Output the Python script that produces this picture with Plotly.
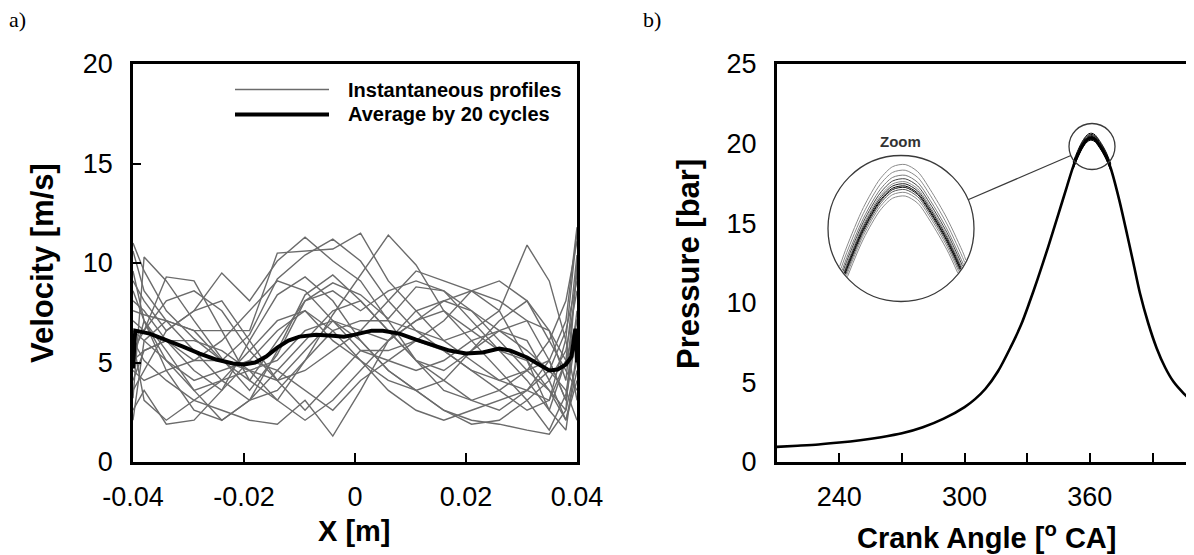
import numpy as np
import plotly.graph_objects as go

# ---------------- Panel a) data : velocity profiles ----------------
x_prof = [-0.04, -0.038, -0.034, -0.029, -0.024, -0.019, -0.014, -0.009, -0.004,
          0.001, 0.006, 0.011, 0.016, 0.021, 0.026, 0.031, 0.035, 0.038, 0.04]

prof_01 = [11.0, 9.6, 7.6, 6.2, 5.1, 6.4, 9.2, 10.4, 11.2, 10.1, 8.1, 6.6, 5.6, 4.6, 4.1, 3.6, 3.1, 6.2, 11.6]
prof_02 = [3.2, 10.3, 9.1, 7.1, 5.2, 3.6, 5.4, 8.1, 9.0, 8.4, 7.2, 8.8, 8.6, 7.1, 5.6, 4.1, 2.6, 5.1, 10.4]
prof_03 = [7.1, 6.6, 9.3, 9.1, 6.6, 4.1, 3.1, 5.1, 7.4, 9.4, 11.4, 9.9, 7.6, 6.1, 4.6, 3.1, 1.6, 3.4, 7.2]
prof_04 = [5.1, 7.1, 5.6, 3.6, 2.1, 3.1, 5.6, 8.4, 9.4, 8.1, 6.6, 5.1, 4.6, 5.6, 7.1, 8.1, 6.6, 4.1, 9.6]
prof_05 = [2.6, 3.6, 1.9, 2.1, 3.6, 6.1, 8.4, 9.3, 8.1, 6.1, 4.6, 3.6, 2.6, 2.1, 1.9, 1.6, 1.4, 2.6, 5.1]
prof_06 = [9.1, 8.1, 6.6, 7.6, 9.5, 8.1, 10.1, 11.3, 10.1, 9.1, 7.1, 5.1, 4.1, 3.1, 2.6, 3.6, 5.1, 7.1, 11.8]
prof_07 = [6.1, 5.1, 4.1, 3.1, 2.6, 2.1, 1.9, 3.1, 1.3, 3.6, 6.1, 7.6, 8.1, 7.6, 6.6, 5.6, 4.6, 3.6, 2.1]
prof_08 = [4.1, 5.6, 6.1, 4.6, 3.6, 5.1, 6.6, 7.6, 6.1, 5.1, 4.1, 3.6, 2.6, 1.9, 2.1, 3.1, 4.1, 5.6, 8.6]
prof_09 = [7.6, 7.4, 7.1, 6.6, 6.6, 6.6, 10.5, 10.6, 10.7, 11.5, 9.1, 7.6, 6.1, 5.1, 4.1, 4.6, 5.1, 3.1, 6.6]
prof_10 = [10.6, 8.6, 7.1, 5.6, 4.1, 3.1, 3.6, 5.1, 6.6, 7.1, 7.1, 6.6, 6.1, 6.6, 7.6, 10.9, 9.1, 6.1, 3.1]
prof_11 = [5.6, 6.6, 8.1, 8.6, 7.6, 5.6, 4.1, 2.6, 4.1, 5.6, 5.1, 4.6, 5.1, 6.1, 6.6, 6.1, 4.1, 2.1, 4.6]
prof_12 = [8.1, 7.6, 6.1, 5.1, 5.1, 4.6, 4.1, 4.6, 5.6, 6.6, 8.1, 9.6, 9.1, 8.6, 7.6, 5.1, 3.6, 2.6, 10.1]
prof_13 = [4.6, 4.1, 4.6, 5.1, 6.1, 7.6, 9.1, 8.6, 7.1, 5.6, 5.6, 6.1, 7.1, 8.6, 9.1, 8.1, 6.1, 4.6, 3.6]
prof_14 = [6.6, 6.1, 5.1, 4.1, 4.6, 5.1, 4.6, 3.6, 2.6, 4.1, 5.1, 6.1, 5.6, 4.6, 3.6, 2.6, 3.1, 5.1, 7.1]
prof_15 = [9.6, 7.1, 4.6, 2.6, 2.1, 3.1, 4.6, 6.1, 7.6, 8.1, 6.6, 5.1, 3.6, 3.1, 3.6, 4.6, 6.1, 8.1, 11.1]
prof_16 = [3.6, 4.6, 6.6, 7.6, 8.1, 6.1, 4.1, 5.6, 7.1, 6.6, 6.1, 7.1, 7.6, 6.6, 5.6, 5.1, 2.6, 1.6, 5.6]
prof_17 = [5.1, 5.6, 6.1, 6.1, 5.6, 4.6, 3.1, 2.1, 3.1, 4.6, 6.1, 7.1, 8.1, 8.6, 8.1, 7.1, 5.1, 3.1, 7.6]
prof_18 = [8.6, 7.1, 5.1, 3.6, 4.1, 5.6, 7.1, 7.6, 6.6, 5.1, 3.6, 2.6, 2.1, 2.6, 3.1, 3.6, 4.6, 6.6, 9.1]
prof_19 = [2.1, 6.1, 7.1, 6.6, 5.1, 4.1, 6.1, 8.1, 8.6, 7.6, 8.6, 9.1, 8.6, 7.6, 6.1, 4.6, 3.6, 2.1, 4.1]
prof_20 = [6.1, 3.1, 2.1, 3.1, 4.1, 4.6, 5.1, 6.6, 7.1, 6.1, 4.6, 3.6, 4.1, 5.6, 6.6, 7.1, 6.6, 5.1, 6.1]
profiles = [prof_01, prof_02, prof_03, prof_04, prof_05, prof_06, prof_07, prof_08, prof_09, prof_10,
            prof_11, prof_12, prof_13, prof_14, prof_15, prof_16, prof_17, prof_18, prof_19, prof_20]

x_avg = [-0.04, -0.0396, -0.037, -0.034, -0.031, -0.028, -0.025, -0.022, -0.020, -0.018, -0.016,
         -0.014, -0.012, -0.010, -0.007, -0.004, -0.002, 0.000, 0.003, 0.005, 0.008, 0.011, 0.014,
         0.017, 0.020, 0.023, 0.026, 0.028, 0.031, 0.033, 0.035, 0.0365, 0.038, 0.039, 0.0397, 0.04]
v_avg = [4.7, 6.6, 6.45, 6.15, 5.8, 5.45, 5.15, 4.95, 4.9, 5.0, 5.3,
         5.75, 6.1, 6.3, 6.4, 6.35, 6.3, 6.4, 6.6, 6.6, 6.45, 6.15, 5.85,
         5.6, 5.45, 5.5, 5.7, 5.6, 5.25, 4.95, 4.6, 4.65, 4.9, 5.3, 6.7, 5.0]

a_xticks = [-0.04, -0.02, 0, 0.02, 0.04]
a_xticklabels = ["-0.04", "-0.02", "0", "0.02", "0.04"]
a_yticks = [0, 5, 10, 15, 20]

# ---------------- Panel b) data : cylinder pressure ----------------
crank_angle = [210, 220, 230, 240, 250, 260, 270, 280, 290, 300, 305, 310, 316, 322, 327, 331, 335, 340,
               345, 349, 352, 354, 356, 358, 359.5, 361, 362.5, 364, 366, 368, 370, 374, 378, 381, 384,
               388, 392, 396, 400, 405, 410]
pressure = [0.95, 1.02, 1.10, 1.22, 1.37, 1.56, 1.80, 2.18, 2.72, 3.45, 3.95, 4.60, 5.70, 7.20, 8.60, 10.0,
            11.5, 13.5, 15.6, 17.3, 18.55, 19.2, 19.75, 20.15, 20.32, 20.35, 20.25, 20.0, 19.6, 19.1,
            18.45, 16.5, 14.2, 12.4, 10.6, 8.7, 7.15, 5.95, 5.05, 4.3, 3.7]
# peak-pressure deviation of individual cycles (bar), shown magnified in the inset
cycle_peak_offset = [0.30, 0.22, 0.15, 0.10, 0.06, 0.03, 0.0, -0.02, -0.05, -0.09, -0.14]
cycle_color = ["#8a8a8a", "#8a8a8a", "#7a7a7a", "#444444", "#8a8a8a", "#222222",
               "#000000", "#111111", "#555555", "#8a8a8a", "#8a8a8a"]

b_xticks = [240, 300, 360]
b_xticks_minor = [270, 330, 390]
b_yticks = [0, 5, 10, 15, 20, 25]

# ---------------- geometry (screen pixels; page body adds an 8 px offset) ----------------
OFF = 8
W, H = 1194 - OFF, 555 - OFF
def fx(px): return (px - OFF) / W
def fy(py): return 1 - (py - OFF) / H

A_L, A_R, A_T, A_B = 133, 577, 64, 462
B_L, B_R, B_T, B_B = 776.7, 1193, 64, 462
A_XR, A_YR = [-0.04, 0.04], [0, 20]
B_XR, B_YR = [210, 409.4], [0, 25]
pxd = (B_R - B_L) / (B_XR[1] - B_XR[0])
pxb = (B_B - B_T) / (B_YR[1] - B_YR[0])
def bx(px): return B_XR[0] + (px - B_L) / pxd
def by(py): return B_YR[0] + (B_B - py) / pxb

FONT = "Liberation Sans, Arial, sans-serif"

fig = go.Figure()

# panel a traces
for prof in profiles:
    fig.add_trace(go.Scatter(x=x_prof, y=prof, mode="lines", xaxis="x", yaxis="y",
                             line=dict(color="#6b6b6b", width=1.4), hoverinfo="skip"))
fig.add_trace(go.Scatter(x=x_avg, y=v_avg, mode="lines", xaxis="x", yaxis="y",
                         line=dict(color="black", width=4), hoverinfo="skip"))

ca = np.array(crank_angle, float)
pr = np.array(pressure, float)
pmax = pr.max()

# panel b main curve
fig.add_trace(go.Scatter(x=crank_angle, y=pressure, mode="lines", xaxis="x2", yaxis="y2",
                         line=dict(color="black", width=2.6, shape="spline", smoothing=0.8),
                         hoverinfo="skip"))
# individual cycles around the peak (thickened top)
near = (ca >= 352) & (ca <= 370)
for off in cycle_peak_offset:
    fig.add_trace(go.Scatter(x=ca[near], y=pr[near] + off, mode="lines", xaxis="x2", yaxis="y2",
                             line=dict(color="black", width=1.0, shape="spline", smoothing=0.8),
                             hoverinfo="skip"))

# inset (magnified peak) geometry
IN_C = (901, 228.5); IN_R = 73
SM_C = (1092, 146.5); SM_R = 23
icx, icy = bx(IN_C[0]), by(IN_C[1])
apex_y = by(186)
MX, MY = 4.0, 4.5
ref_ca = 360.5

def inside(xd, yd, r=IN_R - 1.0):
    return ((xd - icx) * pxd) ** 2 + ((yd - icy) * pxb) ** 2 <= r ** 2

sel = (ca >= 335) & (ca <= 388)
for off, col in zip(cycle_peak_offset, cycle_color):
    xs = icx + MX * (ca[sel] - ref_ca)
    ys = apex_y + MY * (pr[sel] - pmax + off)
    ins = inside(xs, ys)
    idx = np.where(ins)[0]
    i0, i1 = idx[0], idx[-1]
    def cross(a, b):
        lo, hi = 0.0, 1.0
        for _ in range(40):
            m = (lo + hi) / 2
            if inside(xs[a] + (xs[b] - xs[a]) * m, ys[a] + (ys[b] - ys[a]) * m):
                lo = m
            else:
                hi = m
        return xs[a] + (xs[b] - xs[a]) * lo, ys[a] + (ys[b] - ys[a]) * lo
    pl = cross(i0, i0 - 1)
    prr = cross(i1, i1 + 1)
    X = [pl[0]] + list(xs[i0:i1 + 1]) + [prr[0]]
    Y = [pl[1]] + list(ys[i0:i1 + 1]) + [prr[1]]
    fig.add_trace(go.Scatter(x=X, y=Y, mode="lines", xaxis="x2", yaxis="y2",
                             line=dict(color=col, width=1.0, shape="spline", smoothing=0.8),
                             hoverinfo="skip"))

# circles and connector
shapes = []
shapes.append(dict(type="circle", xref="x2", yref="y2",
                   x0=bx(IN_C[0] - IN_R), x1=bx(IN_C[0] + IN_R),
                   y0=by(IN_C[1] + IN_R), y1=by(IN_C[1] - IN_R),
                   line=dict(color="#3a3a3a", width=1.3)))
shapes.append(dict(type="circle", xref="x2", yref="y2",
                   x0=bx(SM_C[0] - SM_R), x1=bx(SM_C[0] + SM_R),
                   y0=by(SM_C[1] + SM_R), y1=by(SM_C[1] - SM_R),
                   line=dict(color="#3a3a3a", width=1.3)))
dx, dy = SM_C[0] - IN_C[0], SM_C[1] - IN_C[1]
dn = (dx ** 2 + dy ** 2) ** 0.5
ux, uy = dx / dn, dy / dn
shapes.append(dict(type="line", xref="x2", yref="y2",
                   x0=bx(IN_C[0] + IN_R * ux), y0=by(IN_C[1] + IN_R * uy),
                   x1=bx(SM_C[0] - SM_R * ux), y1=by(SM_C[1] - SM_R * uy),
                   line=dict(color="#3a3a3a", width=1.2)))
# legend samples (panel a)
LEG_X0, LEG_X1, LEG_Y1, LEG_Y2 = 235, 329, 89.6, 114.5
shapes.append(dict(type="line", xref="paper", yref="paper", x0=fx(LEG_X0), x1=fx(LEG_X1),
                   y0=fy(LEG_Y1), y1=fy(LEG_Y1), line=dict(color="#6b6b6b", width=1.5)))
shapes.append(dict(type="line", xref="paper", yref="paper", x0=fx(LEG_X0), x1=fx(LEG_X1),
                   y0=fy(LEG_Y2), y1=fy(LEG_Y2), line=dict(color="black", width=4)))

ann = []
def text(s, px, py, size, bold=False, angle=0, xanchor="center", family=FONT, color="black"):
    ann.append(dict(text=("<b>%s</b>" % s) if bold else s, x=fx(px), y=fy(py),
                    xref="paper", yref="paper", showarrow=False, textangle=angle,
                    xanchor=xanchor, yanchor="middle",
                    font=dict(size=size, family=family, color=color)))

text("a)", 7, 20, 22, xanchor="left", family="Liberation Serif, Times New Roman, serif")
text("b)", 641, 20, 22, xanchor="left", family="Liberation Serif, Times New Roman, serif")
text("Velocity [m/s]", 42, 263, 31, bold=True, angle=-90)
text("X [m]", 355, 531, 29, bold=True)
text("Pressure [bar]", 688, 264, 31, bold=True, angle=-90)
text("Crank Angle [<sup>o</sup> CA]", 986, 536, 29, bold=True)
text("Zoom", 900, 141.5, 15, bold=True, color="#333333")
text("Instantaneous profiles", 346, LEG_Y1, 20, bold=True, xanchor="left")
text("Average by 20 cycles", 346, LEG_Y2, 20, bold=True, xanchor="left")

axis_common = dict(showline=True, linecolor="black", linewidth=2.5, mirror=True,
                   showgrid=False, zeroline=False, tickcolor="black", tickwidth=2,
                   automargin=False,
                   tickfont=dict(family=FONT, size=27, color="black"))

fig.update_layout(
    width=W, height=H, autosize=False,
    margin=dict(l=0, r=0, t=0, b=0, pad=0, autoexpand=False),
    paper_bgcolor="white", plot_bgcolor="white",
    showlegend=False,
    xaxis=dict(domain=[fx(A_L), fx(A_R)], range=A_XR, anchor="y",
               tickvals=a_xticks, ticktext=a_xticklabels, ticks="inside", ticklen=9,
               ticklabelstandoff=9, **axis_common),
    yaxis=dict(domain=[fy(A_B), fy(A_T)], range=A_YR, anchor="x",
               tickvals=a_yticks, ticks="inside", ticklen=8,
               ticklabelstandoff=12, **axis_common),
    xaxis2=dict(domain=[fx(B_L), fx(B_R)], range=B_XR, anchor="y2",
                tickvals=b_xticks, ticks="inside", ticklen=9,
                minor=dict(tickvals=b_xticks_minor, ticks="inside", ticklen=9,
                           tickwidth=2, tickcolor="black", showgrid=False),
                ticklabelstandoff=9, **axis_common),
    yaxis2=dict(domain=[fy(B_B), fy(B_T)], range=B_YR, anchor="x2",
                tickvals=b_yticks, ticks="", ticklabelstandoff=12, **axis_common),
    shapes=shapes, annotations=ann,
)

fig.write_html("out.html")
